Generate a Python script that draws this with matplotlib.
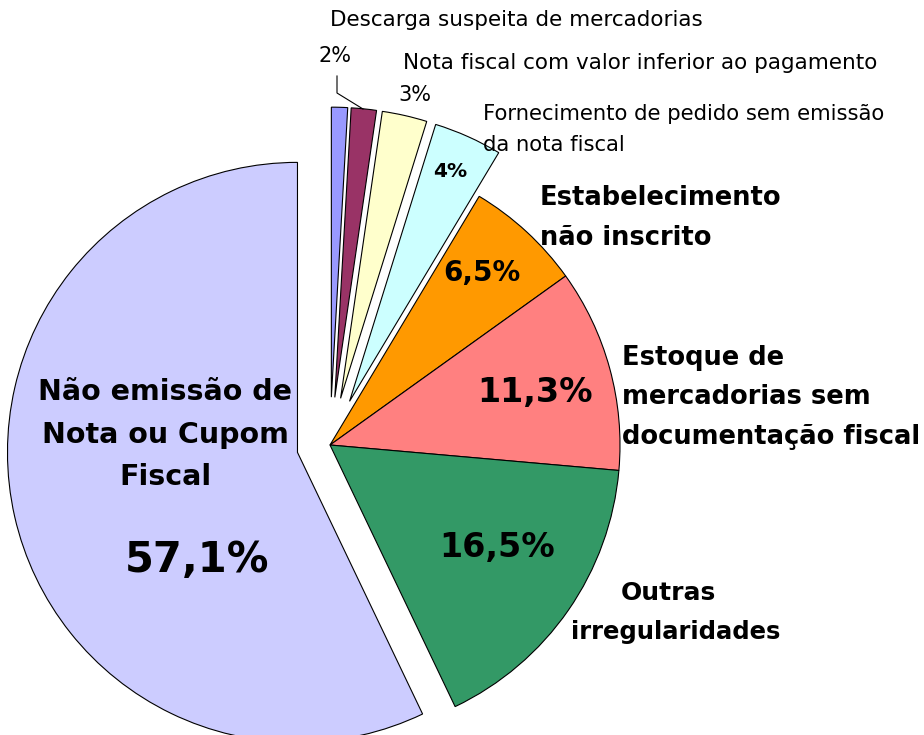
import matplotlib
matplotlib.use("Agg")
import matplotlib.pyplot as plt

# slice data, clockwise from 12 o'clock
names = ["Sem rótulo", "Descarga suspeita de mercadorias",
         "Nota fiscal com valor inferior ao pagamento",
         "Fornecimento de pedido sem emissão da nota fiscal",
         "Estabelecimento não inscrito",
         "Estoque de mercadorias sem documentação fiscal",
         "Outras irregularidades",
         "Não emissão de Nota ou Cupom Fiscal"]
values = [0.9, 1.4, 2.5, 3.8, 6.5, 11.3, 16.5, 57.1]
pct_labels = ["", "2%", "3%", "4%", "6,5%", "11,3%", "16,5%", "57,1%"]
colors = ["#9999FF", "#993366", "#FFFFCC", "#CCFFFF", "#FF9900",
          "#FF8080", "#339966", "#CCCCFF"]
explode = [0.165, 0.165, 0.165, 0.165, 0, 0, 0, 0.115]

plt.rcParams['font.family'] = ['DejaVu Sans']

fig = plt.figure(figsize=(9.24, 7.35), dpi=100)
ax = fig.add_axes([0, 0, 1, 1])

ax.pie(values, colors=colors, explode=explode, startangle=90,
       counterclock=False, radius=1.0,
       wedgeprops=dict(edgecolor="black", linewidth=0.8))

# pixel -> data (centre at 330,445, radius 290 px)
def p(x, y):
    return (x - 330) / 290.0, (445 - y) / 290.0

ax.set_xlim(p(0, 0)[0], p(924, 0)[0])
ax.set_ylim(p(0, 735)[1], p(0, 0)[1])
ax.set_aspect("equal")
ax.axis("off")

def txt(x, y, s, size, bold=False, ha="left"):
    ax.text(*p(x, y), s, fontsize=size, ha=ha, va="center",
            fontweight="bold" if bold else "normal")

# small slice labels
txt(330, 20, names[1], 15.5)
txt(335, 56, pct_labels[1], 15, ha="center")
ax.plot(*zip(p(337, 76), p(337, 93), p(363, 109)), color="black", lw=0.8)
txt(403, 63, names[2], 15.5)
txt(415, 95, pct_labels[2], 15, ha="center")
txt(483, 114, "Fornecimento de pedido sem emissão", 15.2)
txt(483, 145, "da nota fiscal", 15.2)
txt(450, 172, pct_labels[3], 14.5, bold=True, ha="center")

# bigger slices
txt(540, 198, "Estabelecimento", 18.5, bold=True)
txt(540, 238, "não inscrito", 18.5, bold=True)
txt(482, 273, pct_labels[4], 20, bold=True, ha="center")

txt(622, 358, "Estoque de", 18.5, bold=True)
txt(622, 397, "mercadorias sem", 18.5, bold=True)
txt(622, 437, "documentação fiscal", 18.5, bold=True)
txt(535, 393, pct_labels[5], 24, bold=True, ha="center")

txt(668, 593, "Outras", 18, bold=True, ha="center")
txt(676, 632, "irregularidades", 17.5, bold=True, ha="center")
txt(497, 548, pct_labels[6], 24, bold=True, ha="center")

txt(165, 392, "Não emissão de", 20.5, bold=True, ha="center")
txt(165, 435, "Nota ou Cupom", 20.5, bold=True, ha="center")
txt(165, 477, "Fiscal", 20.5, bold=True, ha="center")
txt(197, 560, pct_labels[7], 30, bold=True, ha="center")

fig.savefig("out.png", dpi=100, facecolor="white")
